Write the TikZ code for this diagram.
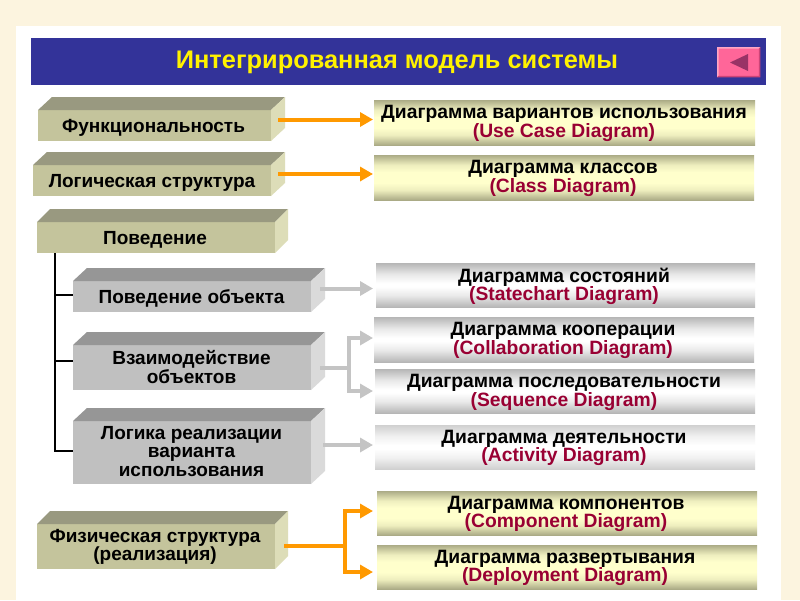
\documentclass[tikz,border=0pt]{standalone}
\usepackage{fontspec}
\setmainfont{Liberation Sans}
\usetikzlibrary{arrows.meta}
\definecolor{paper}{HTML}{FCF4DF}
\definecolor{bar}{HTML}{333399}
\definecolor{olivefront}{HTML}{C4C49C}
\definecolor{olivetop}{HTML}{999980}
\definecolor{oliveside}{HTML}{DDDDB8}
\definecolor{greyfront}{HTML}{C0C0C0}
\definecolor{greytop}{HTML}{969696}
\definecolor{greyside}{HTML}{DADADA}
\definecolor{olivedge}{HTML}{ABAB86}
\definecolor{cream}{HTML}{FFFFCC}
\definecolor{greyedge}{HTML}{B6B6B6}
\definecolor{paleedge}{HTML}{D0D0D0}
\definecolor{engl}{HTML}{990033}
\definecolor{orangeline}{HTML}{FF9900}
\definecolor{greyline}{HTML}{C4C4C4}
\definecolor{pinkbtn}{HTML}{FF6699}
\definecolor{pinkdark}{HTML}{CC4477}
\definecolor{pinklight}{HTML}{FFA6C4}
\definecolor{tridark}{HTML}{993366}
\pgfdeclareverticalshading{oliveband}{100bp}{color(0bp)=(olivedge); color(25bp)=(olivedge); color(36bp)=(cream!80!olivedge); color(44bp)=(cream); color(56bp)=(cream); color(64bp)=(cream!80!olivedge); color(75bp)=(olivedge); color(100bp)=(olivedge)}
\pgfdeclareverticalshading{greyband}{100bp}{color(0bp)=(greyedge); color(25bp)=(greyedge); color(38bp)=(white!70!greyedge); color(48bp)=(white); color(52bp)=(white); color(62bp)=(white!70!greyedge); color(75bp)=(greyedge); color(100bp)=(greyedge)}
\pgfdeclareverticalshading{paleband}{100bp}{color(0bp)=(paleedge); color(25bp)=(paleedge); color(38bp)=(white!70!paleedge); color(48bp)=(white); color(52bp)=(white); color(62bp)=(white!70!paleedge); color(75bp)=(paleedge); color(100bp)=(paleedge)}
\newcommand{\en}[1]{\textcolor{engl}{#1}}
\newcommand{\threed}[9]{%
  \node[frontface,fill=#7,minimum width=#4pt,minimum height=#5pt] (#1) at (#2,#3) {};
  \fill[#8] (#1.north west) -- ++(#6,-13) -- ++(#4,0) -- ++(-#6,13) -- cycle;
  \fill[#9] (#1.north east) -- ++(#6,-13) -- ++(0,#5) -- ++(-#6,13) -- cycle;
}
\tikzset{
  frontface/.style={rectangle,draw=none,anchor=north west,inner sep=0pt,outer sep=0pt},
  lefttext/.style={font=\fontsize{19}{18.7}\selectfont\bfseries,align=center,text=black,inner sep=0pt},
  righttext/.style={font=\fontsize{19.3}{18.5}\selectfont\bfseries,align=center,text=black,inner sep=0pt},
  diagbox/.style={rectangle,draw=none,anchor=north west,inner sep=0pt,outer sep=0pt},
  yellowbox/.style={diagbox,shading=oliveband},
  greybox/.style={diagbox,shading=greyband},
  palebox/.style={diagbox,shading=paleband},
  oarrow/.style={draw=orangeline,line width=4pt,-{Triangle[length=13pt,width=14pt]}},
  garrow/.style={draw=greyline,line width=4pt,-{Triangle[length=13pt,width=14pt]}},
  oline/.style={draw=orangeline,line width=4pt},
  gline/.style={draw=greyline,line width=4pt},
  tree/.style={draw=black,line width=2pt},
}
\begin{document}
\begin{tikzpicture}[x=1pt,y=-1pt]
\useasboundingbox (0,0) rectangle (800,600);
\fill[paper] (0,0) rectangle (800,600);
\fill[white] (16,26) rectangle (781,600);
\node[rectangle,fill=bar,anchor=north west,minimum width=735pt,minimum height=47pt,inner sep=0pt] (title) at (31,38) {};
\node[font=\fontsize{25.4}{26}\selectfont\bfseries,text=yellow,inner sep=0pt] (titletext) at (397,62.5) {Интегрированная модель системы};
% back button
\node[rectangle,fill=pinkbtn,anchor=north west,minimum width=43pt,minimum height=30pt,inner sep=0pt] (btn) at (717,47) {};
\fill[pinklight] (btn.north west) -- (btn.north east) -- ++(-1.5,1.5) -- ([shift={(1.5pt,-1.5pt)}]btn.north west) -- ([shift={(1.5pt,1.5pt)}]btn.south west) -- (btn.south west) -- cycle;
\fill[pinkdark] (btn.south east) -- (btn.north east) -- ++(-1.5,1.5) -- ([shift={(-1.5pt,1.5pt)}]btn.south east) -- ([shift={(1.5pt,1.5pt)}]btn.south west) -- (btn.south west) -- cycle;
\fill[tridark] (730,62.5) -- (748,54) -- (748,71) -- cycle;
% left 3D boxes
\threed{f1}{38}{110}{233}{31}{14}{olivefront}{olivetop}{oliveside}
\threed{f2}{33}{165}{238}{31}{14}{olivefront}{olivetop}{oliveside}
\threed{f3}{37}{222}{238}{31}{13}{olivefront}{olivetop}{oliveside}
\threed{g1}{73}{281}{238}{31}{14}{greyfront}{greytop}{greyside}
\threed{g2}{73}{345}{238}{45}{14}{greyfront}{greytop}{greyside}
\threed{g3}{73}{421}{238}{63}{14}{greyfront}{greytop}{greyside}
\threed{f4}{37}{524}{238}{45}{13}{olivefront}{olivetop}{oliveside}
\node[lefttext] (tf1) at (153.5,127.5) {Функциональность};
\node[lefttext] (tf2) at (152,182.5) {Логическая структура};
\node[lefttext] (tf3) at (155,239.5) {Поведение};
\node[lefttext] (tg1) at (191.5,298.5) {Поведение объекта};
\node[lefttext] (tg2) at (191.5,367) {Взаимодействие\\объектов};
\node[lefttext] (tg3) at (191.5,451.5) {Логика реализации\\варианта\\использования};
\node[lefttext] (tf4) at (155,547) {Физическая структура\\(реализация)};
% right boxes
\node[yellowbox,minimum width=381pt,minimum height=45pt] (r1) at (374,100) {};
\node[yellowbox,minimum width=380pt,minimum height=45pt] (r2) at (374,155) {};
\node[greybox,minimum width=379pt,minimum height=44pt] (r3) at (376,263) {};
\node[greybox,minimum width=380pt,minimum height=45pt] (r4) at (374,317) {};
\node[greybox,minimum width=380pt,minimum height=44pt] (r5) at (375,369) {};
\node[palebox,minimum width=380pt,minimum height=44pt] (r6) at (375,425) {};
\node[yellowbox,minimum width=380pt,minimum height=44pt] (r7) at (377,491) {};
\node[yellowbox,minimum width=380pt,minimum height=44pt] (r8) at (377,545) {};
\node[righttext] (tr1) at (564,123.5) {Диаграмма вариантов использования\\\en{(Use Case Diagram)}};
\node[righttext] (tr2) at (563,178.5) {Диаграмма классов\\\en{(Class Diagram)}};
\node[righttext] (tr3) at (564,286.5) {Диаграмма состояний\\\en{(Statechart Diagram)}};
\node[righttext] (tr4) at (563,340.5) {Диаграмма кооперации\\\en{(Collaboration Diagram)}};
\node[righttext] (tr5) at (564,392.5) {Диаграмма последовательности\\\en{(Sequence Diagram)}};
\node[righttext] (tr6) at (564,448) {Диаграмма деятельности\\\en{(Activity Diagram)}};
\node[righttext] (tr7) at (566,514) {Диаграмма компонентов\\\en{(Component Diagram)}};
\node[righttext] (tr8) at (565,568) {Диаграмма развертывания\\\en{(Deployment Diagram)}};
% connectors
\draw[oarrow] ([shift={(7pt,6pt)}]f1.east) -- ([shift={(-1pt,3pt)}]r1.west);
\draw[oarrow] ([shift={(7pt,6.5pt)}]f2.east) -- ([shift={(-1pt,3.5pt)}]r2.west);
\draw[garrow] ([shift={(9pt,8pt)}]g1.east) -- ([shift={(-3pt,-3.5pt)}]r3.west);
\coordinate (gj) at ([xshift=38pt]g2.east);
\draw[gline] ([xshift=9pt]g2.east) -- (gj);
\draw[garrow] (gj) |- ([shift={(-1pt,1.5pt)}]r4.west);
\draw[garrow] (gj) |- ([shift={(-2pt,0pt)}]r5.west);
\draw[garrow] ([shift={(12pt,7.5pt)}]g3.east) -- ([shift={(-2pt,2pt)}]r6.west);
\coordinate (oj) at ([xshift=70pt]f4.east);
\draw[oline] ([xshift=9pt,yshift=0.5pt]f4.east) -- ([yshift=0.5pt]oj);
\draw[oarrow] (oj) |- ([shift={(-4pt,2pt)}]r7.west);
\draw[oarrow] (oj) |- ([shift={(-4pt,-5pt)}]r8.west);
\draw[tree] (f3.south west -| 55,0) -- (55,451) -- (g3.west |- 0,451);
\draw[tree] (55,295) -- (g1.west |- 0,295);
\draw[tree] (55,361) -- (g2.west |- 0,361);
\end{tikzpicture}
\end{document}
